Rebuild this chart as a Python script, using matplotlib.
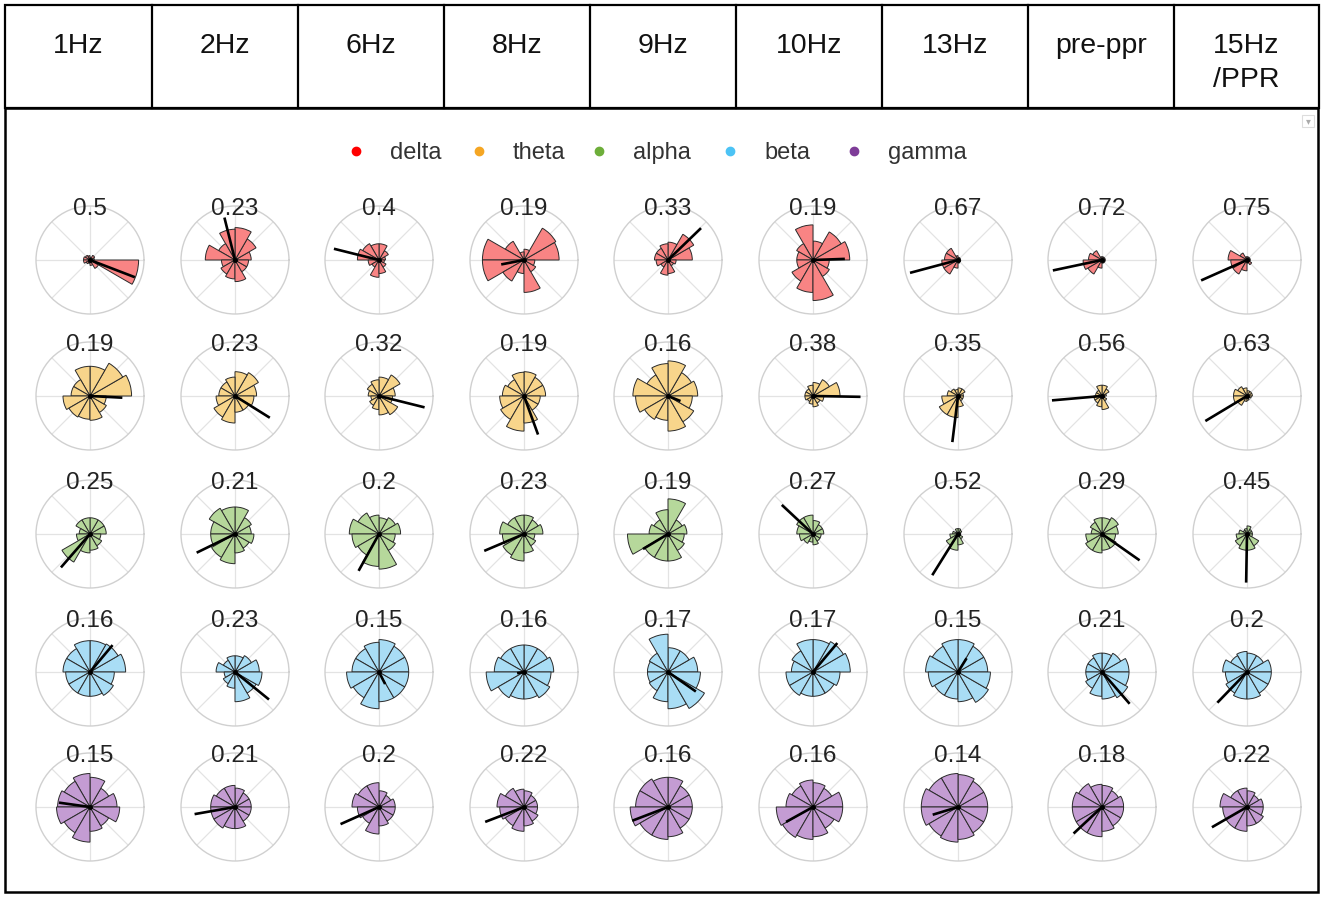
import numpy as np
import matplotlib
matplotlib.use("Agg")
import matplotlib.pyplot as plt
from matplotlib.patches import Rectangle

plt.rcParams['font.family'] = ['Liberation Sans', 'DejaVu Sans']

W, H = 1325, 898

conditions = ['1Hz', '2Hz', '6Hz', '8Hz', '9Hz', '10Hz', '13Hz', 'pre-ppr', '15Hz\n/PPR']
bands = ['delta', 'theta', 'alpha', 'beta', 'gamma']

# 12 phase bins of 30 deg, starting at 0 deg, counter-clockwise
delta_bins = [
    [0.08, 0.1, 0.05, 0.08, 0.1, 0.12, 0.12, 0.08, 0.06, 0.1, 0.18, 0.9],
    [0.3, 0.45, 0.6, 0.57, 0.35, 0.55, 0.25, 0.3, 0.35, 0.4, 0.25, 0.25],
    [0.12, 0.2, 0.3, 0.3, 0.35, 0.4, 0.2, 0.15, 0.32, 0.25, 0.15, 0.1],
    [0.65, 0.68, 0.2, 0.15, 0.4, 0.77, 0.77, 0.45, 0.25, 0.6, 0.25, 0.2],
    [0.45, 0.55, 0.33, 0.3, 0.25, 0.25, 0.22, 0.15, 0.28, 0.25, 0.12, 0.15],
    [0.68, 0.6, 0.35, 0.65, 0.35, 0.3, 0.3, 0.45, 0.6, 0.75, 0.35, 0.3],
    [0.04, 0.05, 0.05, 0.08, 0.25, 0.25, 0.3, 0.3, 0.15, 0.06, 0.05, 0.05],
    [0.06, 0.06, 0.06, 0.06, 0.2, 0.25, 0.35, 0.3, 0.15, 0.06, 0.06, 0.06],
    [0.06, 0.06, 0.06, 0.06, 0.15, 0.35, 0.3, 0.3, 0.2, 0.06, 0.1, 0.06],
]
theta_bins = [
    [0.77, 0.7, 0.55, 0.55, 0.35, 0.35, 0.5, 0.45, 0.43, 0.45, 0.35, 0.3],
    [0.4, 0.5, 0.45, 0.35, 0.3, 0.3, 0.35, 0.45, 0.5, 0.3, 0.3, 0.35],
    [0.3, 0.45, 0.35, 0.3, 0.25, 0.2, 0.15, 0.2, 0.25, 0.35, 0.4, 0.25],
    [0.4, 0.4, 0.45, 0.44, 0.35, 0.4, 0.45, 0.5, 0.65, 0.5, 0.3, 0.3],
    [0.55, 0.5, 0.65, 0.6, 0.45, 0.65, 0.6, 0.5, 0.45, 0.65, 0.55, 0.45],
    [0.5, 0.35, 0.25, 0.2, 0.15, 0.15, 0.15, 0.12, 0.15, 0.2, 0.15, 0.2],
    [0.1, 0.15, 0.15, 0.12, 0.15, 0.2, 0.3, 0.4, 0.4, 0.2, 0.1, 0.1],
    [0.08, 0.15, 0.2, 0.2, 0.12, 0.12, 0.15, 0.15, 0.2, 0.25, 0.1, 0.05],
    [0.1, 0.1, 0.1, 0.15, 0.2, 0.25, 0.25, 0.2, 0.1, 0.08, 0.05, 0.08],
]
alpha_bins = [
    [0.3, 0.3, 0.3, 0.3, 0.3, 0.2, 0.25, 0.6, 0.35, 0.3, 0.25, 0.2],
    [0.3, 0.35, 0.5, 0.5, 0.55, 0.45, 0.45, 0.5, 0.55, 0.35, 0.3, 0.35],
    [0.4, 0.35, 0.3, 0.35, 0.45, 0.55, 0.5, 0.45, 0.6, 0.65, 0.35, 0.3],
    [0.35, 0.3, 0.35, 0.35, 0.35, 0.45, 0.4, 0.45, 0.5, 0.35, 0.25, 0.2],
    [0.35, 0.3, 0.65, 0.45, 0.3, 0.35, 0.75, 0.5, 0.5, 0.5, 0.35, 0.3],
    [0.2, 0.2, 0.25, 0.35, 0.35, 0.3, 0.25, 0.2, 0.15, 0.2, 0.15, 0.15],
    [0.05, 0.08, 0.1, 0.1, 0.05, 0.1, 0.15, 0.25, 0.3, 0.2, 0.1, 0.05],
    [0.3, 0.35, 0.3, 0.3, 0.25, 0.2, 0.3, 0.35, 0.35, 0.3, 0.3, 0.25],
    [0.1, 0.1, 0.15, 0.1, 0.08, 0.15, 0.2, 0.25, 0.3, 0.3, 0.25, 0.1],
]
beta_bins = [
    [0.66, 0.6, 0.58, 0.58, 0.5, 0.5, 0.45, 0.45, 0.45, 0.45, 0.5, 0.45],
    [0.45, 0.35, 0.3, 0.3, 0.25, 0.35, 0.2, 0.25, 0.3, 0.55, 0.45, 0.5],
    [0.55, 0.55, 0.6, 0.55, 0.5, 0.5, 0.6, 0.55, 0.68, 0.55, 0.55, 0.55],
    [0.55, 0.5, 0.5, 0.5, 0.5, 0.55, 0.7, 0.55, 0.5, 0.5, 0.55, 0.5],
    [0.55, 0.45, 0.45, 0.7, 0.4, 0.38, 0.38, 0.4, 0.55, 0.68, 0.78, 0.6],
    [0.69, 0.65, 0.6, 0.6, 0.45, 0.4, 0.5, 0.5, 0.45, 0.45, 0.45, 0.5],
    [0.55, 0.55, 0.6, 0.6, 0.55, 0.6, 0.55, 0.5, 0.5, 0.55, 0.65, 0.6],
    [0.5, 0.4, 0.35, 0.35, 0.3, 0.3, 0.3, 0.35, 0.45, 0.5, 0.55, 0.5],
    [0.45, 0.35, 0.35, 0.38, 0.35, 0.45, 0.4, 0.45, 0.5, 0.5, 0.45, 0.45],
]
gamma_bins = [
    [0.5, 0.4, 0.55, 0.62, 0.55, 0.6, 0.62, 0.55, 0.65, 0.45, 0.4, 0.55],
    [0.3, 0.3, 0.35, 0.4, 0.4, 0.45, 0.45, 0.45, 0.4, 0.4, 0.3, 0.3],
    [0.3, 0.25, 0.3, 0.45, 0.45, 0.5, 0.4, 0.35, 0.5, 0.35, 0.3, 0.3],
    [0.25, 0.25, 0.3, 0.33, 0.4, 0.5, 0.45, 0.4, 0.45, 0.35, 0.3, 0.25],
    [0.45, 0.45, 0.55, 0.55, 0.6, 0.6, 0.7, 0.6, 0.6, 0.55, 0.45, 0.45],
    [0.55, 0.4, 0.45, 0.5, 0.45, 0.5, 0.68, 0.65, 0.6, 0.55, 0.45, 0.55],
    [0.55, 0.55, 0.6, 0.62, 0.62, 0.68, 0.68, 0.62, 0.65, 0.6, 0.55, 0.55],
    [0.4, 0.35, 0.4, 0.42, 0.5, 0.55, 0.55, 0.55, 0.55, 0.45, 0.4, 0.4],
    [0.3, 0.25, 0.3, 0.35, 0.35, 0.5, 0.45, 0.45, 0.45, 0.35, 0.35, 0.3],
]

# mean phase vector: angle (deg) and length
delta_angle = [-21, 104, 166, 191, 44, 2, 195, 192, 204]
delta_len = [0.89, 0.81, 0.86, 0.43, 0.85, 0.59, 0.92, 0.93, 0.93]
theta_angle = [-3, -32, -14, -70, -22, -1, 263, 185, 211]
theta_len = [0.6, 0.76, 0.87, 0.76, 0.25, 0.88, 0.86, 0.93, 0.9]
alpha_angle = [229, 206, 241, 203, 211, 137, 238, 325, 269]
alpha_len = [0.82, 0.79, 0.78, 0.8, 0.54, 0.79, 0.9, 0.85, 0.9]
beta_angle = [50, -39, -63, 190, -35, 50, 58, -49, 226]
beta_len = [0.65, 0.81, 0.25, 0.13, 0.63, 0.7, 0.3, 0.78, 0.79]
gamma_angle = [172, 190, 204, 201, 201, 209, 197, 223, 210]
gamma_len = [0.58, 0.76, 0.78, 0.77, 0.71, 0.57, 0.49, 0.72, 0.75]

delta_title = [0.5, 0.23, 0.4, 0.19, 0.33, 0.19, 0.67, 0.72, 0.75]
theta_title = [0.19, 0.23, 0.32, 0.19, 0.16, 0.38, 0.35, 0.56, 0.63]
alpha_title = [0.25, 0.21, 0.2, 0.23, 0.19, 0.27, 0.52, 0.29, 0.45]
beta_title = [0.16, 0.23, 0.15, 0.16, 0.17, 0.17, 0.15, 0.21, 0.2]
gamma_title = [0.15, 0.21, 0.2, 0.22, 0.16, 0.16, 0.14, 0.18, 0.22]

all_bins = [delta_bins, theta_bins, alpha_bins, beta_bins, gamma_bins]
all_angle = [delta_angle, theta_angle, alpha_angle, beta_angle, gamma_angle]
all_len = [delta_len, theta_len, alpha_len, beta_len, gamma_len]
all_title = [delta_title, theta_title, alpha_title, beta_title, gamma_title]

fill_colors = ['#F98484', '#F8D58B', '#B6D89B', '#A9DDF5', '#C49CD3']
dot_colors = ['#FF0000', '#F5A623', '#6DAE3A', '#4CC3F5', '#7E3C98']


def fx(px):
    return px / W


def fy(py):
    return 1 - py / H


fig = plt.figure(figsize=(W / 100, H / 100), dpi=100)

# header table
col_edges = [5, 152, 298, 444, 590, 736, 882, 1028, 1174, 1319]
fig.add_artist(Rectangle((fx(5), fy(108)), fx(1319) - fx(5), fy(5) - fy(108),
                         transform=fig.transFigure, fill=False, ec='black', lw=1.6))
for x in col_edges[1:-1]:
    fig.add_artist(plt.Line2D([fx(x), fx(x)], [fy(5), fy(108)],
                              transform=fig.transFigure, color='black', lw=1.6))
for i, name in enumerate(conditions):
    xc = (col_edges[i] + col_edges[i + 1]) / 2
    for j, line in enumerate(name.split('\n')):
        fig.text(fx(xc), fy(53 + 34 * j), line, ha='center', va='baseline',
                 fontsize=20.5, color='#111111')

# outer box
fig.add_artist(Rectangle((fx(5), fy(892)), fx(1318) - fx(5), fy(108) - fy(892),
                         transform=fig.transFigure, fill=False, ec='black', lw=1.8))

# small dropdown icon
fig.add_artist(Rectangle((fx(1302), fy(127)), fx(12), 12 / H, transform=fig.transFigure,
                         fill=False, ec='#dddddd', lw=0.8))
fig.text(fx(1308), fy(121), '\u25BE', ha='center', va='center', fontsize=7, color='#aaaaaa',
         family=['DejaVu Sans'])

# legend
legend_text_x = [390, 513, 633, 764, 888]
for k, band in enumerate(bands):
    fig.add_artist(plt.Line2D([fx(legend_text_x[k] - 34)], [fy(151)], marker='o', ms=6,
                              color=dot_colors[k], transform=fig.transFigure, ls='none'))
    fig.text(fx(legend_text_x[k]), fy(159), band, ha='left', va='baseline',
             fontsize=17, color='#333333')

# rose plots
centers_x = [90, 235, 379, 524, 668, 813, 958, 1102, 1247]
centers_y = [260, 396, 534, 672, 807]
R = 54
edges = np.deg2rad(np.arange(0, 360, 30))
width = np.deg2rad(30)

for r in range(5):
    for c in range(9):
        cx, cy = centers_x[c], centers_y[r]
        ax = fig.add_axes([fx(cx - R), fy(cy + R), 2 * R / W, 2 * R / H], projection='polar')
        ax.set_ylim(0, 1)
        ax.set_xticks(np.deg2rad(np.arange(0, 360, 45)))
        ax.set_xticklabels([])
        ax.set_yticks([])
        ax.xaxis.grid(True, color='#e3e3e3', lw=0.9)
        ax.spines['polar'].set_color('#d0d0d0')
        ax.spines['polar'].set_linewidth(1.0)
        ax.set_axisbelow(True)
        ax.patch.set_alpha(0)
        ax.bar(edges, all_bins[r][c], width=width, align='edge', bottom=0,
               color=fill_colors[r], edgecolor='#2a2a2a', linewidth=0.7, zorder=2)
        ang = np.deg2rad(all_angle[r][c])
        ax.plot([0, ang], [0, all_len[r][c]], color='black', lw=1.9,
                solid_capstyle='butt', zorder=3)
        ax.plot([0], [0], 'o', color='black', ms=2.5, zorder=4)
        fig.text(fx(cx), fy(cy - R + 9), f"{all_title[r][c]:g}", ha='center',
                 va='baseline', fontsize=17.5, color='#222222', zorder=5)

fig.savefig('out.png', dpi=100)
